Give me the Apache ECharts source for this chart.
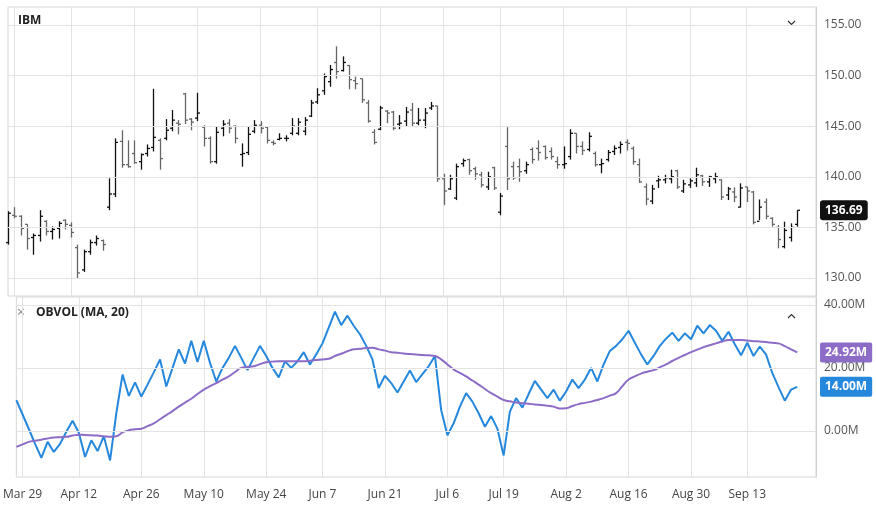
<!DOCTYPE html>
<html>
<head>
<meta charset="utf-8">
<script src="https://cdn.jsdelivr.net/npm/echarts@6/dist/echarts.min.js"></script>
<style>
  html, body { margin: 0; padding: 0; background: #fff; }
  #chart { width: 876px; height: 514px; }
</style>
</head>
<body>
<div id="chart"></div>
<script>
// ---- data ----
const tickIdx = [1, 10, 20, 30, 40, 49, 59, 69, 78, 88, 98, 108, 117];
const tickText = ['Mar 29', 'Apr 12', 'Apr 26', 'May 10', 'May 24', 'Jun 7', 'Jun 21', 'Jul 6', 'Jul 19', 'Aug 2', 'Aug 16', 'Aug 30', 'Sep 13'];
const slotCount = 129; // 126 bars + empty room on the right

const opens = [133.5,136.2,136.1,135.3,134.0,134.2,135.6,134.6,134.9,135.7,135.2,133.0,130.8,132.6,133.5,133.7,137.0,138.3,143.5,141.2,
  142.3,141.5,142.3,142.9,143.6,143.8,144.8,145.3,148.2,145.7,145.8,144.9,143.8,141.5,144.8,145.3,145.0,142.2,142.4,144.5,
  145.1,144.9,143.4,143.7,143.8,144.3,144.3,144.5,146.0,147.4,148.5,149.4,151.3,150.5,151.0,149.5,149.7,147.3,144.4,144.7,
  146.5,146.4,145.2,145.5,146.6,145.3,145.6,146.8,147.0,139.8,138.8,137.9,141.3,141.7,140.8,140.2,139.0,140.9,136.5,143.0,
  141.0,141.0,140.6,142.7,142.8,143.0,142.5,141.5,141.2,142.0,144.3,143.0,142.7,142.3,141.2,141.7,142.5,142.9,143.4,142.8,
  141.2,139.0,137.6,139.6,139.7,139.8,140.6,138.6,139.2,139.4,140.1,139.5,139.8,139.7,138.2,138.5,137.0,139.0,138.5,135.6,
  137.5,135.9,135.0,133.1,134.0,135.3];
const closes = [136.4,136.1,134.9,133.9,134.2,136.1,134.6,134.8,135.4,135.3,134.5,130.5,132.6,133.5,133.9,133.3,138.3,143.4,141.2,141.0,
  141.4,142.2,142.8,143.9,141.8,144.6,145.6,145.2,145.6,145.4,146.3,143.8,141.5,144.4,145.2,144.8,143.8,142.3,144.2,145.1,
  144.8,143.6,143.3,143.8,143.8,145.0,145.4,145.6,147.3,148.1,149.9,150.6,150.4,151.3,149.6,149.2,147.6,145.5,143.4,146.8,
  146.3,144.8,145.3,146.4,145.3,145.6,146.3,147.0,139.8,138.6,139.8,141.0,141.6,140.6,140.3,139.2,140.0,138.9,138.1,139.8,
  139.9,140.5,141.2,141.7,142.4,141.9,142.0,141.2,141.3,144.3,143.0,142.6,144.0,141.2,141.3,142.4,142.8,143.2,143.3,141.5,
  139.5,137.8,138.8,139.7,139.9,140.0,139.0,139.3,139.6,140.2,139.5,140.0,140.0,138.0,138.8,138.0,138.9,138.6,135.5,137.0,
  136.1,135.3,133.8,134.7,135.0,136.69];
const lows = [133.3,135.9,134.2,132.8,132.3,133.6,134.2,133.8,133.9,134.8,134.0,130.0,130.6,132.3,133.2,132.7,136.7,138.0,140.9,140.9,
  141.3,140.7,142.0,142.5,140.7,143.6,144.5,144.2,145.2,144.6,145.5,143.0,141.3,141.3,144.0,144.3,143.3,141.0,142.15,144.3,
  144.3,143.3,143.1,143.6,143.5,144.1,144.1,144.1,145.9,147.2,148.1,148.9,149.7,150.4,148.65,148.65,147.3,145.35,143.2,144.6,
  145.3,144.6,144.7,145.0,145.0,145.1,144.8,146.6,139.5,137.2,138.7,137.7,141.0,140.2,139.7,138.95,138.7,138.7,136.2,138.7,
  139.7,139.5,140.3,141.3,141.6,141.7,141.7,140.8,140.8,141.7,142.3,142.15,142.5,141.0,140.35,141.5,142.15,142.3,142.6,141.2,
  139.4,137.2,137.3,138.9,139.35,139.35,138.8,138.4,138.9,139.0,139.1,139.0,139.35,137.7,137.7,137.5,136.98,137.5,135.3,135.73,
  135.8,135.07,132.93,132.93,133.6,135.07];
const highs = [136.6,137.0,136.2,135.3,134.4,136.7,135.7,135.1,135.6,135.8,135.5,133.3,132.8,133.8,134.2,133.8,139.85,143.8,144.6,143.6,
  143.6,142.3,143.2,148.7,143.8,145.7,146.6,145.6,148.3,145.8,148.3,145.1,144.0,144.95,145.6,145.7,145.1,143.3,144.95,145.6,
  145.5,144.95,143.6,144.3,144.1,145.8,145.8,145.9,147.6,148.75,150.2,151.05,152.9,151.9,151.05,149.9,149.7,147.6,144.7,147.0,
  146.6,146.5,146.1,146.9,147.3,146.8,146.8,147.4,147.0,140.3,140.2,141.3,141.8,141.8,141.0,140.5,140.5,141.0,138.4,144.9,
  141.5,141.8,141.5,142.9,143.6,143.1,142.9,142.0,143.0,144.7,144.3,143.5,144.4,142.5,141.8,142.65,143.1,143.5,143.7,143.0,
  141.8,139.35,139.2,140.1,140.2,140.7,140.7,139.7,139.85,140.9,140.2,140.1,140.4,139.75,139.0,138.96,139.35,139.0,138.6,137.76,
  137.86,136.0,135.24,135.57,135.4,136.7];
const obv = [9.8,5.2,0.6,-4.1,-8.6,-3.5,-6.7,-4.1,-0.3,3.2,-0.6,-8.3,-3.0,-6.4,-1.7,-9.4,5.6,17.9,11.1,15.4,
  10.9,14.7,18.6,22.7,14.1,20.0,25.9,21.4,28.6,21.9,28.6,21.6,15.7,20.0,23.2,27.0,23.2,19.3,23.2,27.0,
  23.8,20.0,17.0,22.1,20.0,22.1,25.0,21.1,24.3,27.8,32.8,37.9,33.6,36.6,33.4,30.7,27.0,22.7,13.6,17.5,
  15.2,12.2,15.7,19.2,15.5,18.0,20.5,23.8,6.6,-1.4,2.4,7.7,12.0,9.3,5.6,1.3,4.7,0.7,-7.8,6.1,
  10.4,7.4,11.7,15.9,13.1,10.4,13.1,9.6,12.5,16.3,13.6,16.3,20.0,15.7,21.1,25.4,27.0,29.1,31.8,28.0,
  24.3,21.1,23.8,27.0,29.3,31.2,28.6,31.0,29.1,33.4,31.0,33.6,31.8,28.6,31.5,27.5,24.0,28.0,23.8,26.8,
  24.3,18.4,13.9,9.6,13.1,14.0];
const obvMa = [-5.1,-4.3,-3.5,-3.1,-2.8,-2.4,-2.1,-2.0,-1.9,-1.5,-1.2,-1.3,-1.4,-1.5,-1.7,-1.9,-1.7,-0.5,0.2,0.5,
  0.7,1.5,2.4,3.7,5.0,6.3,7.7,9.0,10.2,11.7,13.1,14.2,15.2,16.3,17.3,18.7,20.0,20.3,20.5,21.2,
  21.8,22.0,22.1,22.1,22.1,22.1,22.1,22.3,22.5,22.7,22.9,23.8,24.5,25.3,25.9,26.1,26.3,26.4,25.9,25.5,
  25.0,24.8,24.6,24.4,24.3,24.1,24.0,23.8,22.7,21.1,19.5,18.4,17.3,16.0,14.7,13.3,12.0,10.9,9.8,9.4,
  9.0,8.8,8.6,8.4,8.2,8.0,7.7,7.1,7.2,7.9,8.5,8.9,9.3,9.8,10.4,11.2,12.0,14.2,16.3,17.3,
  18.2,18.8,19.3,20.2,21.1,22.2,23.2,24.1,25.0,25.8,26.6,27.2,27.8,28.4,28.9,28.9,28.9,28.7,28.5,28.4,
  28.2,28.0,27.8,26.9,25.9,24.92];
const priceTicks = [130, 135, 140, 145, 150, 155];
const obvTicks = [0, 20, 40];

// ---- build ----
const categories = [];
for (let i = 0; i < slotCount; i++) {
  const k = tickIdx.indexOf(i);
  categories.push(k >= 0 ? tickText[k] : '');
}
const isTick = i => tickIdx.indexOf(i) >= 0;
const ohlc = opens.map((o, i) => [i, o, highs[i], lows[i], closes[i]]);
const last = closes.length - 1;
const FONT = '"Open Sans", "Noto Sans", sans-serif';
const gridLine = { show: true, lineStyle: { color: '#e3e3e3', width: 1 } };

const chart = echarts.init(document.getElementById('chart'), null, { renderer: 'canvas' });
chart.setOption({
  animation: false,
  textStyle: { fontFamily: FONT },
  grid: [
    { left: 8, right: 60, top: 7, height: 289, show: true, borderColor: '#d6d6d6', borderWidth: 1 },
    { left: 8, right: 60, top: 297, height: 180, show: true, borderColor: '#d6d6d6', borderWidth: 1 }
  ],
  xAxis: [
    { type: 'category', gridIndex: 0, data: categories, boundaryGap: false,
      axisLine: { show: false }, axisTick: { show: false }, axisLabel: { show: false },
      splitLine: { show: true, interval: i => isTick(i), lineStyle: { color: '#e3e3e3' } } },
    { type: 'category', gridIndex: 1, data: categories, boundaryGap: false,
      axisLine: { show: false }, axisTick: { show: false },
      axisLabel: { interval: i => isTick(i), color: '#444', fontSize: 12, margin: 12, fontFamily: FONT },
      splitLine: { show: true, interval: i => isTick(i), lineStyle: { color: '#e3e3e3' } } }
  ],
  yAxis: [
    { type: 'value', gridIndex: 0, position: 'right', min: 128.22, max: 156.78,
      axisLine: { show: true, lineStyle: { color: '#cfcfcf' } }, axisTick: { show: false, customValues: priceTicks },
      axisLabel: { customValues: priceTicks, color: '#555', fontSize: 12, margin: 8, fontFamily: FONT,
        formatter: v => v.toFixed(2) },
      splitLine: { show: false } },
    { type: 'value', gridIndex: 1, position: 'right', min: -14.65, max: 42.53,
      axisLine: { show: true, lineStyle: { color: '#cfcfcf' } }, axisTick: { show: false, customValues: obvTicks },
      axisLabel: { customValues: obvTicks, color: '#555', fontSize: 12, margin: 8, fontFamily: FONT,
        formatter: v => v.toFixed(2) + 'M' },
      splitLine: { show: false } }
  ],
  series: [
    { // price gridlines
      type: 'line', xAxisIndex: 0, yAxisIndex: 0, data: [], silent: true,
      markLine: { silent: true, symbol: 'none', label: { show: false },
        lineStyle: { color: '#e3e3e3', type: 'solid', width: 1 },
        data: priceTicks.map(v => ({ yAxis: v })) }
    },
    { // obv gridlines
      type: 'line', xAxisIndex: 1, yAxisIndex: 1, data: [], silent: true,
      markLine: { silent: true, symbol: 'none', label: { show: false },
        lineStyle: { color: '#e3e3e3', type: 'solid', width: 1 },
        data: obvTicks.map(v => ({ yAxis: v })) }
    },
    {
      type: 'custom', xAxisIndex: 0, yAxisIndex: 0, data: ohlc,
      renderItem: (params, api) => {
        const x = api.value(0);
        const o = api.coord([x, api.value(1)]);
        const h = api.coord([x, api.value(2)]);
        const l = api.coord([x, api.value(3)]);
        const c = api.coord([x, api.value(4)]);
        const up = api.value(4) >= api.value(1);
        const style = { stroke: up ? '#111' : '#666', lineWidth: 1.3 };
        const cx = Math.round(o[0]) + 0.5;
        return { type: 'group', children: [
          { type: 'line', shape: { x1: cx, y1: h[1], x2: cx, y2: l[1] }, style },
          { type: 'line', shape: { x1: cx - 2.5, y1: o[1], x2: cx, y2: o[1] }, style },
          { type: 'line', shape: { x1: cx, y1: c[1], x2: cx + 2.5, y2: c[1] }, style }
        ] };
      },
      markLine: { silent: true, symbol: 'none', lineStyle: { width: 0 },
        label: { position: 'end', distance: 4, formatter: p => p.value.toFixed(2), color: '#fff',
          backgroundColor: '#111', padding: [4, 5], borderRadius: 3, fontWeight: 'bold', fontSize: 12, fontFamily: FONT },
        data: [{ yAxis: closes[last] }] }
    },
    {
      name: 'OBVOL', type: 'line', xAxisIndex: 1, yAxisIndex: 1, data: obv,
      symbol: 'none', lineStyle: { color: '#2588dc', width: 2 }, itemStyle: { color: '#2588dc' },
      markLine: { silent: true, symbol: 'none', lineStyle: { width: 0 },
        label: { position: 'end', distance: 4, formatter: p => p.value.toFixed(2) + 'M', color: '#fff',
          backgroundColor: '#2588dc', padding: [4, 5], borderRadius: 2, fontWeight: 'bold', fontSize: 12, fontFamily: FONT },
        data: [{ yAxis: obv[last] }] }
    },
    {
      name: 'MA 20', type: 'line', xAxisIndex: 1, yAxisIndex: 1, data: obvMa, smooth: true,
      symbol: 'none', lineStyle: { color: '#8c6cc6', width: 2 }, itemStyle: { color: '#8c6cc6' },
      markLine: { silent: true, symbol: 'none', lineStyle: { width: 0 },
        label: { position: 'end', distance: 4, formatter: p => p.value.toFixed(2) + 'M', color: '#fff',
          backgroundColor: '#8c6cc6', padding: [4, 5], borderRadius: 2, fontWeight: 'bold', fontSize: 12, fontFamily: FONT },
        data: [{ yAxis: obvMa[last] }] }
    }
  ],
  graphic: [
    { type: 'text', left: 18, top: 15, style: { text: 'IBM', font: 'bold 12px ' + FONT, fill: '#222' } },
    { type: 'polyline', shape: { points: [[788, 21], [791.5, 24.5], [795, 21]] }, style: { stroke: '#333', lineWidth: 1.2, fill: null } },
    { type: 'text', left: 17, top: 306, style: { text: '×', font: '14px ' + FONT, fill: '#888' } },
    { type: 'text', left: 36, top: 307, style: { text: 'OBVOL (MA, 20)', font: 'bold 12px ' + FONT, fill: '#222' } },
    { type: 'polyline', shape: { points: [[788, 318], [791.5, 314.5], [795, 318]] }, style: { stroke: '#333', lineWidth: 1.2, fill: null } }
  ]
});
</script>
</body>
</html>
